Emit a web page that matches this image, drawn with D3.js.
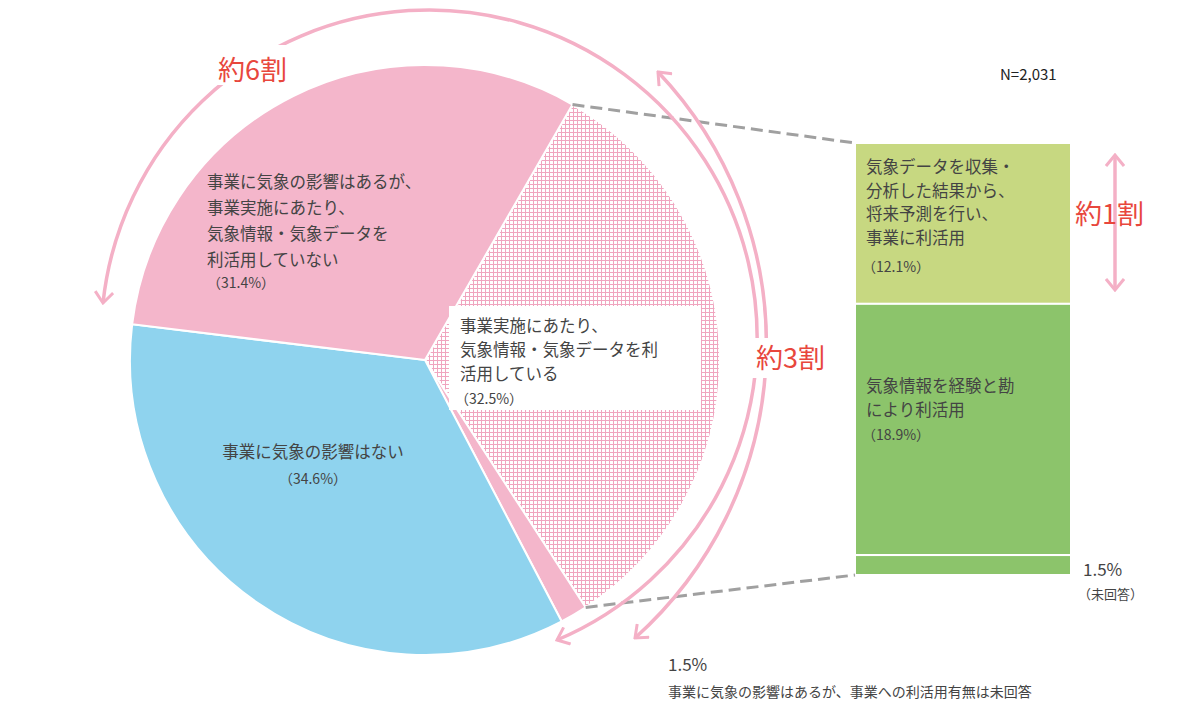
<!DOCTYPE html><html><head><meta charset="utf-8">
<script src="https://cdn.jsdelivr.net/npm/d3@7"></script>
<style>body{margin:0;background:#fff}text{font-family:"Noto Sans CJK JP",sans-serif}</style></head><body>
<svg id="c" width="1201" height="723"></svg>
<script>
const pieLabels=["利活用している","未回答","影響はない","利活用していない"];
const pieValues=[32.5,1.5,34.6,31.4];
const barLabels=["将来予測","経験と勘","未回答"];
const barValues=[12.1,18.9,1.5];
const svg=d3.select("#c");
const defs=svg.append("defs");
const pat=defs.append("pattern").attr("id","hatch").attr("width",4).attr("height",4).attr("patternUnits","userSpaceOnUse");
pat.append("rect").attr("width",4).attr("height",4).attr("fill","#fff");
pat.append("path").attr("d","M0,0.5H4M0.5,0V4").attr("stroke","#f0a5bf").attr("stroke-width",1);
const mk=defs.append("marker").attr("id","arr").attr("viewBox","-12 -10 14 20").attr("markerWidth",14).attr("markerHeight",20).attr("markerUnits","userSpaceOnUse").attr("orient","auto-start-reverse").attr("refX",0).attr("refY",0);
mk.append("path").attr("d","M-11,-9L0,0L-11,9").attr("fill","none").attr("stroke","#f4b0c6").attr("stroke-width",3);
const cx=425,cy=360,R=295;
const start=30*Math.PI/180;
const pie=d3.pie().sort(null).value(d=>d).startAngle(start).endAngle(start+2*Math.PI);
const arcs=pie(pieValues);
const arc=d3.arc().innerRadius(0).outerRadius(R);
const fills=["url(#hatch)","#f4b6cb","#8fd3ee","#f4b6cb"];
const g=svg.append("g").attr("transform",`translate(${cx},${cy})`);
g.selectAll("path").data(arcs).join("path").attr("d",arc).attr("fill",(d,i)=>fills[i]).attr("stroke","#fff").attr("stroke-width",2);
// bar
const y=d3.scaleLinear().domain([0,d3.sum(barValues)]).range([575,143]);
let cum=d3.sum(barValues);
const barFill=["#c7d881","#8cc46b","#8cc46b"];
const segs=barValues.map((v,i)=>{const top=cum;cum-=v;return{top,bot:cum,i};});
svg.selectAll("rect.bar").data(segs).join("rect").attr("x",855).attr("width",216)
 .attr("y",d=>y(d.top)).attr("height",d=>y(d.bot)-y(d.top)).attr("fill",d=>barFill[d.i]).attr("stroke","#fff").attr("stroke-width",2);
// dashed connectors
const pTop=[cx+R*Math.sin(arcs[0].startAngle),cy-R*Math.cos(arcs[0].startAngle)];
const pBot=[cx+R*Math.sin(arcs[0].endAngle),cy-R*Math.cos(arcs[0].endAngle)];
svg.append("line").attr("x1",pTop[0]).attr("y1",pTop[1]).attr("x2",855).attr("y2",y(d3.sum(barValues))).attr("stroke","#a0a0a0").attr("stroke-width",3).attr("stroke-dasharray","12,6");
svg.append("line").attr("x1",pBot[0]).attr("y1",pBot[1]).attr("x2",855).attr("y2",y(0)).attr("stroke","#a0a0a0").attr("stroke-width",3).attr("stroke-dasharray","12,6");
// white label box
svg.append("rect").attr("x",449).attr("y",306).attr("width",252).attr("height",104).attr("fill","#fff");
// arcs
const pk="#f4b0c6";
svg.append("path").attr("d","M103,303 A328,328 0 1 1 557,640").attr("fill","none").attr("stroke",pk).attr("stroke-width",3.5).attr("marker-start","url(#arr)").attr("marker-end","url(#arr)");
svg.append("rect").attr("x",210).attr("y",45).attr("width",100).attr("height",40).attr("fill","#fff");
svg.append("path").attr("d","M658,72 A395,395 0 0 1 635,638").attr("fill","none").attr("stroke",pk).attr("stroke-width",3.5).attr("marker-start","url(#arr)").attr("marker-end","url(#arr)");
svg.append("rect").attr("x",752).attr("y",338).attr("width",86).attr("height",40).attr("fill","#fff");
svg.append("line").attr("x1",1115).attr("y1",155).attr("x2",1115).attr("y2",290).attr("stroke",pk).attr("stroke-width",3.5).attr("marker-start","url(#arr)").attr("marker-end","url(#arr)");
// texts
function txt(x,y0,lines,size,fill,lh,anchor){const t=svg.append("text").attr("x",x).attr("y",y0).attr("font-size",size).attr("fill",fill).attr("text-anchor",anchor||"start");
 lines.forEach((l,i)=>t.append("tspan").attr("x",x).attr("dy",i?lh:0).text(l));}
const red="#e8473d",tc="#444";
txt(218,80,["約6割"],27,red);
txt(756,368,["約3割"],27,red);
txt(1075,224,["約1割"],27,red);
txt(1000,80,["N=2,031"],15,"#222");
txt(207,188,["事業に気象の影響はあるが、","事業実施にあたり、","気象情報・気象データを","利活用していない"],16.5,tc,26);
txt(207,288,["（31.4%）"],14,tc);
txt(460,332,["事業実施にあたり、","気象情報・気象データを利","活用している"],16.5,tc,24);
txt(455,404,["（32.5%）"],14,tc);
txt(313,458,["事業に気象の影響はない"],16.5,tc,24,"middle");
txt(313,484,["（34.6%）"],14,tc,24,"middle");
txt(866,173,["気象データを収集・","分析した結果から、","将来予測を行い、","事業に利活用"],16.5,tc,23.5);
txt(862,272,["（12.1%）"],14,tc);
txt(866,392,["気象情報を経験と勘","により利活用"],16.5,tc,24);
txt(862,440,["（18.9%）"],14,tc);
txt(1083,576,["1.5%"],17,tc);
txt(1078,599,["（未回答）"],13,tc);
txt(668,671,["1.5%"],17,tc);
txt(668,697,["事業に気象の影響はあるが、事業への利活用有無は未回答"],14,tc);
</script></body></html>
